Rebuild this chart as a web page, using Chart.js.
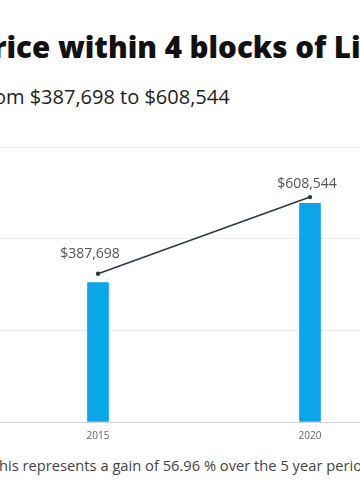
<!DOCTYPE html>
<html>
<head>
<meta charset="utf-8">
<script src="https://cdn.jsdelivr.net/npm/chart.js@4"></script>
<style>
  html, body { margin: 0; padding: 0; background: #fff; }
  body { width: 360px; height: 504px; overflow: hidden; position: relative; font-family: "Open Sans", sans-serif; }
  .txt { position: absolute; white-space: nowrap; }
  #title { left: -26px; top: 26px; font-size: 29.5px; font-weight: 800; color: #111; }
  #subtitle { left: -21px; top: 83px; font-size: 20px; color: #222; }
  #footer { left: -9px; top: 455px; font-size: 14.7px; color: #444; }
  #wrap { position: absolute; left: -12px; top: 143px; width: 432px; height: 303px; }
</style>
</head>
<body>
<div class="txt" id="title">Price within 4 blocks of Li</div>
<div class="txt" id="subtitle">from $387,698 to $608,544</div>
<div class="txt" id="footer">This represents a gain of 56.96 % over the 5 year period</div>
<div id="wrap"><canvas id="chart"></canvas></div>
<script>
const years = ['2015', '2020'];
const medianPrice = [387698, 608544];
const priceLabels = ['$387,698', '$608,544'];

// value labels above the line points
const pointLabels = {
    id: 'pointLabels',
    afterDatasetsDraw(chart, args, opts) {
        const ctx = chart.ctx;
        const meta = chart.getDatasetMeta(1);
        ctx.save();
        ctx.font = '14px "Open Sans"';
        ctx.fillStyle = '#555';
        ctx.textAlign = 'center';
        ctx.textBaseline = 'bottom';
        meta.data.forEach((pt, i) => {
            ctx.fillText(priceLabels[i], pt.x + opts.dx[i], pt.y + opts.dy[i]);
        });
        ctx.restore();
    }
};

const ctx = document.getElementById('chart').getContext('2d');
new Chart(ctx, {
    data: {
        labels: years,
        datasets: [{
            type: 'bar',
            data: medianPrice,
            backgroundColor: '#0aa6e9',
            barThickness: 21,
            yAxisID: 'y',
            order: 2
        }, {
            type: 'line',
            data: medianPrice,
            borderColor: '#2b3a4a',
            borderWidth: 1.6,
            pointRadius: 2.2,
            pointBackgroundColor: '#2b3a4a',
            pointBorderWidth: 0,
            yAxisID: 'y1',
            order: 1
        }]
    },
    options: {
        responsive: true,
        maintainAspectRatio: false,
        animation: false,
        layout: { padding: 0 },
        plugins: {
            legend: { display: false },
            tooltip: { enabled: false },
            pointLabels: { dx: [-8, -3], dy: [-13, -6] }
        },
        scales: {
            x: {
                grid: { display: false, drawTicks: false },
                border: { display: true, color: '#d4d4d4' },
                ticks: { color: '#666', font: { family: 'Open Sans', size: 10 }, padding: 8 },
                afterFit: s => { s.height = 24; }
            },
            y: {
                min: 0, max: 765000,
                ticks: { display: false, stepSize: 255000 },
                grid: { color: '#ebebeb', drawTicks: false },
                border: { display: false },
                afterFit: s => { s.width = 0; }
            },
            y1: {
                display: false,
                min: -40000, max: 753000
            }
        }
    },
    plugins: [pointLabels]
});
</script>
</body>
</html>
